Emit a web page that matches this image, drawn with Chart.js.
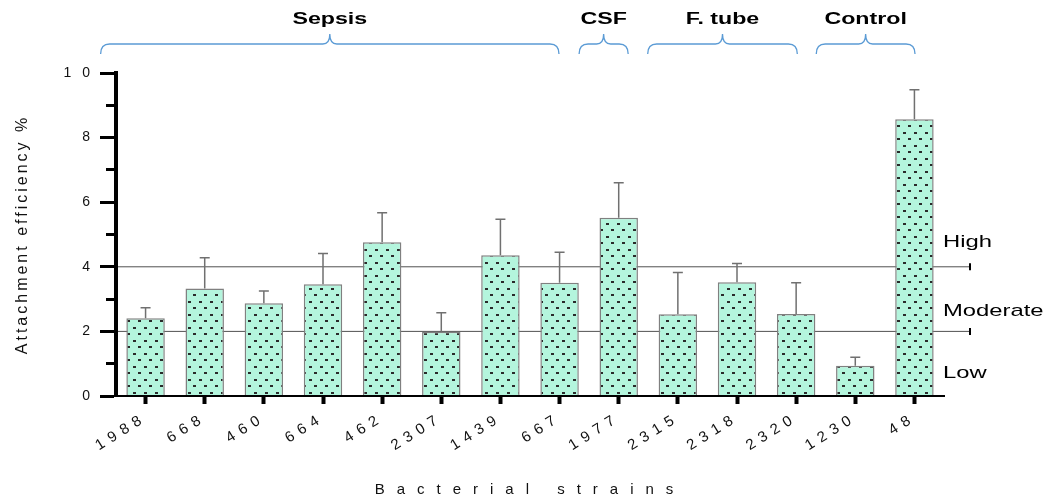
<!DOCTYPE html>
<html>
<head>
<meta charset="utf-8">
<title>Attachment efficiency</title>
<script src="https://cdn.jsdelivr.net/npm/chart.js@4.4.1/dist/chart.umd.min.js"></script>
<style>
  html, body { margin: 0; padding: 0; background: #fff; }
  #wrap { width: 1052px; height: 499px; position: relative; }
</style>
</head>
<body>
<div id="wrap"><canvas id="chartAdesao"></canvas></div>
<script>
// Cepas (eixo x)
const strains = ['1988', '668', '460', '664', '462', '2307', '1439', '667', '1977', '2315', '2318', '2320', '1230', '48'];
// Eficiência de adesão média (%)
const attachment = [2.41, 3.33, 2.87, 3.46, 4.76, 1.99, 4.36, 3.51, 5.52, 2.53, 3.52, 2.54, 0.94, 8.57];
// Desvio (só a barra de erro superior)
const desvio = [0.32, 0.95, 0.38, 0.95, 0.91, 0.59, 1.11, 0.94, 1.08, 1.29, 0.58, 0.97, 0.26, 0.91];

// Grupos de origem, em unidades do eixo x (índice da cepa)
const grupos = ['Sepsis', 'CSF', 'F. tube', 'Control'];
const grupoInicio = [-0.76, 7.33, 8.49, 11.34];
const grupoFim = [6.99, 8.16, 11.02, 13.01];

// Limites de classificação e rótulos dos níveis
const limites = [2, 4];
const niveis = ['Low', 'Moderate', 'High'];
const nivelY = [0.7, 2.62, 4.77];

const fonte = "'Liberation Sans', Arial, sans-serif";
Chart.defaults.font.family = fonte;

// Padrão pontilhado das barras
function criarPadrao() {
    const tile = document.createElement('canvas');
    tile.width = 11;
    tile.height = 13;
    const c = tile.getContext('2d');
    c.fillStyle = '#b4f5dd';
    c.fillRect(0, 0, 11, 13);
    c.fillStyle = '#2a2a2a';
    c.fillRect(1, 2, 3, 2);
    c.fillRect(6, 8, 3, 2);
    return c.createPattern(tile, 'repeat');
}

// Espaçamento entre letras dos textos dos eixos
const espacamento = {
    x: { labels: '6px', title: '12px' },
    y: { labels: '11px', title: '3px' }
};

const pluginEspacamento = {
    id: 'espacamento',
    afterLayout(chart) {
        Object.keys(espacamento).forEach(id => {
            const scale = chart.scales[id];
            if (!scale || scale._espacado) return;
            scale._espacado = true;
            const sp = espacamento[id];
            const ctx = chart.ctx;
            const drawLabels = scale.drawLabels;
            const drawTitle = scale.drawTitle;
            scale.drawLabels = function(area) {
                ctx.save();
                ctx.letterSpacing = sp.labels;
                drawLabels.call(this, area);
                ctx.restore();
            };
            scale.drawTitle = function() {
                ctx.save();
                ctx.letterSpacing = sp.title;
                drawTitle.call(this);
                ctx.restore();
            };
        });
    }
};

// Chave horizontal (tipo "{" deitada)
function desenharChave(ctx, x0, x1, yBase) {
    const cx = (x0 + x1) / 2;
    const yLinha = yBase - 10;
    const yPonta = yBase - 20;
    ctx.beginPath();
    ctx.moveTo(x0, yBase);
    ctx.quadraticCurveTo(x0, yLinha, x0 + 9, yLinha);
    ctx.lineTo(cx - 7, yLinha);
    ctx.quadraticCurveTo(cx, yLinha, cx, yPonta);
    ctx.quadraticCurveTo(cx, yLinha, cx + 7, yLinha);
    ctx.lineTo(x1 - 9, yLinha);
    ctx.quadraticCurveTo(x1, yLinha, x1, yBase);
    ctx.stroke();
}

function textoEsticado(ctx, texto, x, y, fator) {
    ctx.save();
    ctx.translate(x, y);
    ctx.scale(fator, 1);
    ctx.fillText(texto, 0, 0);
    ctx.restore();
}

const pluginAnotacoes = {
    id: 'anotacoes',
    beforeDatasetsDraw(chart) {
        const ctx = chart.ctx;
        const area = chart.chartArea;
        const y = chart.scales.y;
        ctx.save();
        limites.forEach(v => {
            const py = y.getPixelForValue(v);
            ctx.strokeStyle = '#505050';
            ctx.lineWidth = 1;
            ctx.beginPath();
            ctx.moveTo(area.left + 2, py);
            ctx.lineTo(area.right + 26, py);
            ctx.stroke();
            ctx.strokeStyle = '#000';
            ctx.lineWidth = 2;
            ctx.beginPath();
            ctx.moveTo(area.right + 26, py - 3.5);
            ctx.lineTo(area.right + 26, py + 3.5);
            ctx.stroke();
        });
        ctx.restore();
    },
    afterDatasetsDraw(chart) {
        const ctx = chart.ctx;
        const y = chart.scales.y;
        const meta = chart.getDatasetMeta(0);
        ctx.save();
        ctx.strokeStyle = '#707070';
        ctx.lineWidth = 1.5;
        meta.data.forEach((bar, i) => {
            const topo = y.getPixelForValue(attachment[i] + desvio[i]);
            ctx.beginPath();
            ctx.moveTo(bar.x, bar.y);
            ctx.lineTo(bar.x, topo);
            ctx.moveTo(bar.x - 5, topo);
            ctx.lineTo(bar.x + 5, topo);
            ctx.stroke();
        });
        ctx.restore();
    },
    afterDraw(chart) {
        const ctx = chart.ctx;
        const area = chart.chartArea;
        const x = chart.scales.x;
        const y = chart.scales.y;
        ctx.save();

        // Grupos: chaves azuis e títulos em negrito
        ctx.strokeStyle = '#5b9bd5';
        ctx.lineWidth = 1.3;
        ctx.fillStyle = '#000';
        ctx.font = 'bold 16px ' + fonte;
        ctx.textAlign = 'center';
        ctx.textBaseline = 'alphabetic';
        grupos.forEach((g, i) => {
            const x0 = x.getPixelForValue(grupoInicio[i]);
            const x1 = x.getPixelForValue(grupoFim[i]);
            desenharChave(ctx, x0, x1, area.top - 19);
            textoEsticado(ctx, g, (x0 + x1) / 2, area.top - 49, 1.45);
        });

        // Níveis à direita
        ctx.font = '17px ' + fonte;
        ctx.textAlign = 'left';
        ctx.textBaseline = 'middle';
        niveis.forEach((n, i) => {
            textoEsticado(ctx, n, area.right - 1, y.getPixelForValue(nivelY[i]), 1.4);
        });
        ctx.restore();
    }
};

const ctx = document.getElementById('chartAdesao').getContext('2d');

const chart = new Chart(ctx, {
    type: 'bar',
    data: {
        labels: strains,
        datasets: [{
            label: 'Attachment efficiency %',
            data: attachment,
            backgroundColor: criarPadrao(),
            borderColor: '#808080',
            borderWidth: 1.5,
            barPercentage: 0.65,
            categoryPercentage: 1
        }]
    },
    options: {
        responsive: true,
        maintainAspectRatio: false,
        animation: false,
        layout: { padding: { top: 73, right: 108, bottom: 0, left: 0 } },
        plugins: {
            legend: { display: false },
            tooltip: { enabled: false }
        },
        scales: {
            x: {
                grid: {
                    drawOnChartArea: false,
                    offset: false,
                    tickLength: 8,
                    tickWidth: 4,
                    tickColor: '#000'
                },
                border: { color: '#000', width: 2, z: 1 },
                ticks: {
                    color: '#111',
                    font: { size: 15 },
                    minRotation: 32,
                    maxRotation: 32,
                    autoSkip: false,
                    padding: 5
                },
                title: {
                    display: true,
                    text: 'Bacterial strains',
                    color: '#111',
                    font: { size: 15 },
                    padding: { top: 0, bottom: 0 }
                },
                afterFit(scale) { scale.height = 103; }
            },
            y: {
                min: 0,
                max: 10,
                grid: {
                    drawOnChartArea: false,
                    tickLength: 16,
                    tickWidth: 3,
                    tickColor: '#000',
                    tickBorderDash: c => (c.tick && c.tick.value % 2 ? [0, 6, 20] : [])
                },
                border: { color: '#000', width: 4, z: 1 },
                ticks: {
                    stepSize: 1,
                    padding: -1,
                    color: '#111',
                    font: { size: 14 },
                    callback: v => (v % 2 === 0 ? v : '')
                },
                title: {
                    display: true,
                    text: 'Attachment efficiency %',
                    color: '#111',
                    font: { size: 16 },
                    padding: { top: 13, bottom: 0 }
                },
                afterFit(scale) { scale.width = 116; }
            }
        }
    },
    plugins: [pluginEspacamento, pluginAnotacoes]
});
</script>
</body>
</html>
